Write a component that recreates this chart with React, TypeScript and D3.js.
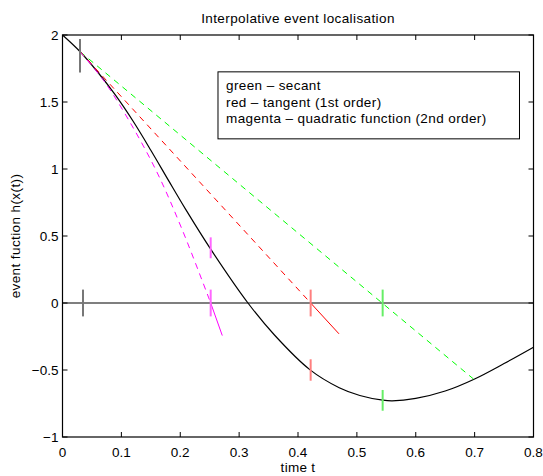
import * as d3 from 'd3';

// black curve h(x(t))
const curveT = [0, 0.03, 0.06, 0.09, 0.12, 0.15, 0.18, 0.21, 0.25, 0.315, 0.36, 0.42, 0.47, 0.505, 0.544, 0.56, 0.6, 0.65, 0.7, 0.75, 0.8];
const curveH = [2.0, 1.875, 1.722, 1.551, 1.356, 1.14, 0.915, 0.693, 0.413, 0, -0.239, -0.497, -0.632, -0.69, -0.725, -0.73, -0.712, -0.657, -0.567, -0.452, -0.33];

// secant (green), tangent (red), quadratic (magenta)
const secantT = [0.03, 0.698];
const secantH = [1.875, -0.567];
const tangentT = [0.03, 0.4215];
const tangentH = [1.875, 0];
const tangentExtT = [0.4215, 0.4696];
const tangentExtH = [0, -0.23];
const quadT = [0.03, 0.07, 0.1118, 0.16, 0.2035, 0.2517];
const quadH = [1.875, 1.66, 1.37, 0.98, 0.545, 0];
const quadExtT = [0.2517, 0.2714];
const quadExtH = [0, -0.243];

// vertical markers: t, low, high, colour
const markT = [0.0297, 0.0348, 0.2517, 0.2517, 0.4215, 0.4215, 0.5438, 0.5438];
const markLo = [1.72, -0.1, 0.334, -0.1, -0.58, -0.1, -0.804, -0.1];
const markHi = [1.97, 0.1, 0.49, 0.1, -0.42, 0.1, -0.649, 0.1];
const markColor = ['#777', '#777', '#ff66ff', '#ff66ff', '#ff7f7f', '#ff7f7f', '#66ee66', '#66ee66'];

const xTicks = [0, 0.1, 0.2, 0.3, 0.4, 0.5, 0.6, 0.7, 0.8];
const yTicks = [-1, -0.5, 0, 0.5, 1, 1.5, 2];
const legendLines = ['green \u2013 secant', 'red \u2013 tangent (1st order)', 'magenta \u2013 quadratic function (2nd order)'];

const W = 543, H = 476;
const m = { left: 62.5, right: 9.5, top: 35, bottom: 39 };
const font = '"Liberation Sans", Arial, Helvetica, sans-serif';

export default function App() {
  const iw = W - m.left - m.right;
  const ih = H - m.top - m.bottom;
  const x = d3.scaleLinear().domain([0, 0.8]).range([0, iw]);
  const y = d3.scaleLinear().domain([-1, 2]).range([ih, 0]);

  const zip = (ts: number[], hs: number[]) => ts.map((t, i) => [t, hs[i]] as [number, number]);
  const line = d3.line<[number, number]>().x(d => x(d[0])).y(d => y(d[1]));
  const smooth = d3.line<[number, number]>().x(d => x(d[0])).y(d => y(d[1])).curve(d3.curveCatmullRom.alpha(0.5));
  const fmt = (v: number) => (v < 0 ? '\u2212' : '') + Math.abs(v).toString();

  // legend box corners in data units
  const lx0 = 0.2641, lx1 = 0.7762, ly0 = 1.725, ly1 = 1.225;

  return (
    <svg width={W} height={H} style={{ position: 'absolute', left: 0, top: 0, background: '#fff' }} fontFamily={font}>
      <text x={m.left + iw / 2} y={23} textAnchor="middle" fontSize={13.5} letterSpacing={0.4}>Interpolative event localisation</text>
      <g transform={`translate(${m.left},${m.top})`}>
        {/* zero line */}
        <line x1={0} x2={iw} y1={y(0)} y2={y(0)} stroke="#000" strokeWidth={1.2} />
        {/* curve */}
        <path d={smooth(zip(curveT, curveH)) || ''} fill="none" stroke="#000" strokeWidth={1.2} />
        {/* secant */}
        <path d={line(zip(secantT, secantH)) || ''} fill="none" stroke="#00ff00" strokeWidth={1} strokeDasharray="6,5" />
        {/* tangent */}
        <path d={line(zip(tangentT, tangentH)) || ''} fill="none" stroke="#ff0000" strokeWidth={1} strokeDasharray="6,5" />
        <path d={line(zip(tangentExtT, tangentExtH)) || ''} fill="none" stroke="#ff0000" strokeWidth={1} />
        {/* quadratic */}
        <path d={smooth(zip(quadT, quadH)) || ''} fill="none" stroke="#ff00ff" strokeWidth={1} strokeDasharray="6,5" />
        <path d={line(zip(quadExtT, quadExtH)) || ''} fill="none" stroke="#ff00ff" strokeWidth={1} />
        {/* markers */}
        {markT.map((t, i) => (
          <line key={i} x1={x(t)} x2={x(t)} y1={y(markLo[i])} y2={y(markHi[i])} stroke={markColor[i]} strokeWidth={2} />
        ))}
        {/* box and ticks */}
        <rect x={0} y={0} width={iw} height={ih} fill="none" stroke="#000" strokeWidth={1.2} />
        {xTicks.map(v => (
          <g key={'x' + v}>
            <line x1={x(v)} x2={x(v)} y1={ih} y2={ih - 5} stroke="#000" />
            <line x1={x(v)} x2={x(v)} y1={0} y2={5} stroke="#000" />
            <text x={x(v)} y={ih + 20} textAnchor="middle" fontSize={13.5}>{fmt(v)}</text>
          </g>
        ))}
        {yTicks.map(v => (
          <g key={'y' + v}>
            <line x1={0} x2={5} y1={y(v)} y2={y(v)} stroke="#000" />
            <line x1={iw} x2={iw - 5} y1={y(v)} y2={y(v)} stroke="#000" />
            <text x={-4} y={y(v)} dy="0.35em" textAnchor="end" fontSize={13.5}>{fmt(v)}</text>
          </g>
        ))}
        {/* legend */}
        <rect x={x(lx0)} y={y(ly0)} width={x(lx1) - x(lx0)} height={y(ly1) - y(ly0)} fill="#fff" stroke="#000" strokeWidth={1} />
        {legendLines.map((s, i) => (
          <text key={s} x={x(lx0) + 8} y={y(ly0) + 18.5 + i * 16.5} fontSize={13.5} letterSpacing={0.4}>{s}</text>
        ))}
      </g>
      <text x={m.left + iw / 2} y={472} textAnchor="middle" fontSize={13.5} letterSpacing={0.3}>time t</text>
      <text transform={`translate(20,${m.top + ih / 2}) rotate(-90)`} textAnchor="middle" fontSize={13.5} letterSpacing={0.4}>event fuction h(x(t))</text>
    </svg>
  );
}
